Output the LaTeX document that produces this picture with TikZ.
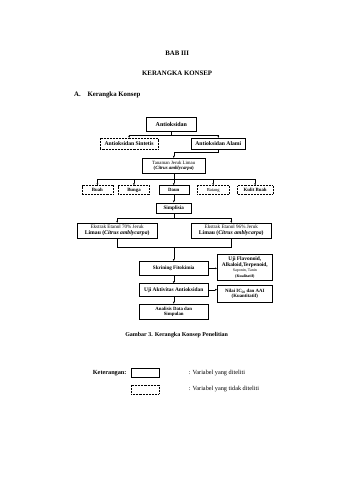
\documentclass[tikz,border=0pt]{standalone}
\usepackage{fontspec}
\setmainfont{Liberation Serif}
\usetikzlibrary{positioning,arrows.meta}

\begin{document}
\begin{tikzpicture}[x=1mm,y=1mm,>={Latex[length=1.3mm,width=1.1mm]},
  font=\fontsize{8.5}{9.5}\selectfont\bfseries,
  box/.style={draw,line width=0.6pt,align=center,inner sep=1pt,minimum height=5.6mm},
  dbox/.style={box,dash pattern=on 1.6pt off 1pt},
  line/.style={line width=0.8pt},
  link/.style={->,line width=0.6pt},
  head/.style={font=\fontsize{12}{14}\selectfont\bfseries},
  note/.style={font=\fontsize{11}{13}\selectfont}]
  \path[use as bounding box,fill=white] (0,0) rectangle (210,-297);

  % headings
  \node[head] (bab) at (109.6,-32.8) {BAB III};
  \node[head] (judul) at (109.6,-45.2) {KERANGKA KONSEP};
  \node[head,anchor=west] (sub) at (44.6,-58.9) {A.\quad Kerangka Konsep};

  % top of the tree
  \node[box,minimum width=31mm,minimum height=8.7mm,font=\fontsize{10.5}{12}\selectfont\bfseries] (antiox) at (106,-76.85) {Antioksidan};
  \node[dbox,minimum width=36mm,minimum height=6.8mm,font=\fontsize{10}{11}\selectfont\bfseries] (sint) at (79.9,-88.9) {Antioksidan Sintetis};
  \node[box,minimum width=33.5mm,minimum height=6.8mm,font=\fontsize{10}{11}\selectfont\bfseries] (alami) at (135.1,-88.9) {Antioksidan Alami};
  \node[box,minimum width=39mm,minimum height=9.3mm] (tanaman) at (107.5,-102.55)
    {\mdseries Tanaman Jeruk Limau\\(\textit{Citrus amblycarpa})};

  % plant parts
  \node[box,minimum width=18.6mm,below=7.4mm of tanaman] (daun) {Daun};
  \node[dbox,minimum width=19.2mm,left=5.5mm of daun] (bunga) {Bunga};
  \node[dbox,minimum width=19.2mm,left=3.2mm of bunga] (buah) {Buah};
  \node[dbox,minimum width=19.8mm,right=5mm of daun,font=\fontsize{8}{9}\selectfont] (batang) {Batang};
  \node[dbox,minimum width=21.7mm,right=5mm of batang] (kulit) {Kulit Buah};

  \node[box,minimum width=21.7mm,minimum height=6.2mm,below=4.9mm of daun,font=\fontsize{9}{10}\selectfont\bfseries] (simplisia) {Simplisia};

  % extracts
  \node[box,minimum width=49.5mm,minimum height=9.3mm,font=\fontsize{10}{10.5}\selectfont\bfseries] (ekstrak70) at (72.5,-142.75)
    {{\mdseries\fontsize{9}{10}\selectfont Ekstrak Etanol 70\% Jeruk}\\Limau (\textit{Citrus amblycarpa})};
  \node[box,minimum width=49.5mm,minimum height=9.3mm,font=\fontsize{10}{10.5}\selectfont\bfseries] (ekstrak96) at (143.1,-142.75)
    {{\mdseries\fontsize{9}{10}\selectfont Ekstrak Etanol 96\% Jeruk}\\Limau (\textit{Citrus amblycarpa})};

  % tests
  \node[box,minimum width=43mm,minimum height=8.7mm,font=\fontsize{9}{10}\selectfont\bfseries] (skrining) at (107.5,-166.05) {Skrining Fitokimia};
  \node[box,minimum width=43mm,minimum height=7.5mm,below=4.9mm of skrining,font=\fontsize{9.5}{10.5}\selectfont\bfseries] (ujiakt) {Uji Aktivitas Antioksidan};
  \node[box,minimum width=43mm,minimum height=9.3mm,below=4.9mm of ujiakt] (analisis)
    {Analisis Data dan\\Simpulan};
  \node[box,minimum width=34mm,minimum height=16.1mm,font=\fontsize{9.5}{10}\selectfont\bfseries] (flav) at (151.5,-165.45)
    {Uji Flavonoid,\\Alkaloid,Terpenoid,\\{\mdseries\fontsize{7}{8}\selectfont Saponin, Tanin}\\{\fontsize{7}{8}\selectfont (Kualitatif)}};
  \node[box,minimum width=34mm,minimum height=10.5mm] (nilai) at (151.5,-181.85)
    {Nilai IC\textsubscript{50} dan AAI\\(Kuantitatif)};

  % connectors
  \draw[line] (antiox.south) -- ++(0,-2.4) coordinate (j1);
  \draw[line] (j1 -| sint.north) -- (j1 -| alami.north);
  \draw[link] (j1 -| sint.north) -- (sint.north);
  \draw[link] (j1 -| alami.north) -- (alami.north);
  \draw[link] (alami.south) -- ++(0,-1.9) -| (tanaman.north);

  \draw[line] (tanaman.south) -- ++(0,-3.7) coordinate (j2);
  \draw[line] (j2 -| buah.north) -- (j2 -| kulit.north);
  \foreach \n in {buah,bunga,daun,batang,kulit}
    \draw[link] (j2 -| \n.north) -- (\n.north);
  \draw[link] (daun) -- (simplisia);

  \draw[line] (simplisia.south) -- ++(0,-3.1) coordinate (j3);
  \draw[line] (j3 -| ekstrak70.north) -- (j3 -| ekstrak96.north);
  \draw[link] (j3 -| ekstrak70.north) -- (ekstrak70.north);
  \draw[link] (j3 -| ekstrak96.north) -- (ekstrak96.north);

  \draw[line] (ekstrak70.south) -- ++(0,-5.6) coordinate (j4) -| (ekstrak96.south);
  \draw[link] (j4 -| skrining.north) -- (skrining.north);
  \draw[link] (skrining.east) -- (skrining.east -| flav.west);
  \draw[link] (skrining) -- (ujiakt);
  \draw[link] (ujiakt.east) -- (ujiakt.east -| nilai.west);
  \draw[link] (ujiakt) -- (analisis);

  \node[font=\fontsize{10.5}{12}\selectfont\bfseries] (caption) at (109.3,-207.5) {Gambar 3. Kerangka Konsep Penelitian};

  % legend
  \node[draw,line width=0.6pt,minimum width=17.3mm,minimum height=5.6mm] (legsolid) at (89.8,-230.8) {};
  \node[dbox,minimum width=17.3mm,minimum height=5.6mm,below=4.3mm of legsolid] (legdash) {};
  \node[note,font=\fontsize{11}{13}\selectfont\bfseries,left=1.5mm of legsolid] (ket) {Keterangan:};
  \node[note,anchor=west] (ketsolid) at ([xshift=17mm]legsolid.east) {: Variabel yang diteliti};
  \node[note,anchor=west] (ketdash) at ([xshift=17mm]legdash.east) {: Variabel yang tidak diteliti};
\end{tikzpicture}
\end{document}
